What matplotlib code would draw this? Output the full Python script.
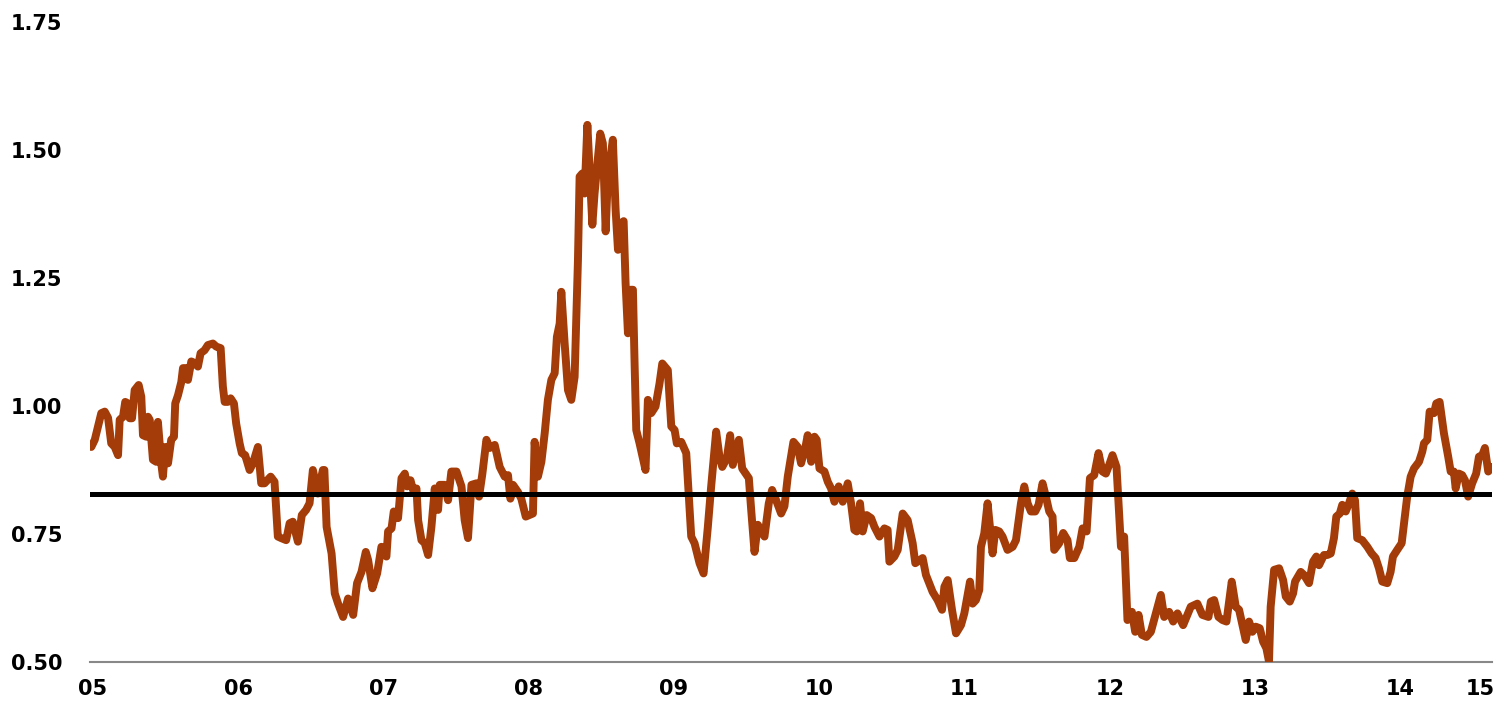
import matplotlib
matplotlib.use("Agg")
import matplotlib.pyplot as plt
import numpy as np

# Time position along the axis (units ~ years from start of 2005), and ratio values
t = [0.002, 0.027, 0.074, 0.099, 0.123, 0.146, 0.171, 0.195, 0.207, 0.231, 0.247, 0.267, 0.279, 0.296,
     0.315, 0.344, 0.363, 0.375, 0.399, 0.411, 0.424, 0.447, 0.471, 0.483, 0.507, 0.519, 0.536, 0.556,
     0.579, 0.599, 0.608, 0.628, 0.652, 0.664, 0.688, 0.700, 0.724, 0.748, 0.772, 0.791, 0.820, 0.844,
     0.880, 0.904, 0.936, 0.952, 0.965, 0.988, 1.008, 1.032, 1.048, 1.073, 1.089, 1.113, 1.145, 1.169,
     1.205, 1.229, 1.253, 1.297, 1.325, 1.349, 1.373, 1.409, 1.434, 1.457, 1.494, 1.522, 1.553, 1.578,
     1.602, 1.638, 1.674, 1.685, 1.701, 1.737, 1.760, 1.784, 1.820, 1.856, 1.893, 1.921, 1.953, 1.984,
     2.001, 2.032, 2.066, 2.097, 2.133, 2.145, 2.170, 2.186, 2.217, 2.242, 2.266, 2.282, 2.307, 2.325,
     2.350, 2.362, 2.386, 2.410, 2.434, 2.458, 2.482, 2.506, 2.518, 2.554, 2.578, 2.602, 2.639, 2.675,
     2.698, 2.722, 2.747, 2.783, 2.802, 2.826, 2.855, 2.879, 2.915, 2.951, 2.987, 3.011, 3.028, 3.047,
     3.083, 3.107, 3.139, 3.191, 3.203, 3.227, 3.252, 3.276, 3.299, 3.324, 3.348, 3.364, 3.384, 3.396,
     3.420, 3.444, 3.468, 3.492, 3.516, 3.528, 3.547, 3.564, 3.584, 3.605, 3.620, 3.636, 3.677, 3.696,
     3.716, 3.732, 3.768, 3.788, 3.805, 3.829, 3.846, 3.860, 3.877, 3.896, 3.913, 3.925, 3.937, 3.961,
     4.004, 4.021, 4.045, 4.076, 4.105, 4.125, 4.165, 4.190, 4.214, 4.230, 4.262, 4.298, 4.334, 4.358,
     4.394, 4.423, 4.454, 4.478, 4.514, 4.538, 4.558, 4.591, 4.615, 4.634, 4.678, 4.702, 4.750, 4.767,
     4.791, 4.815, 4.863, 4.894, 4.918, 4.947, 4.983, 5.007, 5.031, 5.072, 5.103, 5.127, 5.159, 5.175,
     5.200, 5.224, 5.240, 5.260, 5.296, 5.320, 5.344, 5.368, 5.399, 5.428, 5.464, 5.488, 5.512, 5.529,
     5.553, 5.572, 5.601, 5.633, 5.657, 5.693, 5.729, 5.752, 5.765, 5.801, 5.825, 5.861, 5.897, 5.933,
     5.952, 6.005, 6.029, 6.077, 6.113, 6.145, 6.162, 6.186, 6.217, 6.246, 6.282, 6.306, 6.347, 6.366,
     6.390, 6.414, 6.426, 6.450, 6.474, 6.510, 6.530, 6.558, 6.582, 6.618, 6.655, 6.679, 6.715, 6.739,
     6.763, 6.787, 6.818, 6.842, 6.871, 6.895, 6.919, 6.943, 6.955, 6.991, 7.020, 7.051, 7.068, 7.100,
     7.136, 7.160, 7.189, 7.213, 7.244, 7.275, 7.304, 7.328, 7.352, 7.376, 7.405, 7.437, 7.460, 7.484,
     7.516, 7.540, 7.564, 7.588, 7.621, 7.653, 7.689, 7.725, 7.749, 7.785, 7.814, 7.845, 7.886, 7.941,
     7.989, 8.025, 8.069, 8.086, 8.110, 8.141, 8.170, 8.199, 8.237, 8.266, 8.290, 8.338, 8.362, 8.386,
     8.410, 8.439, 8.463, 8.487, 8.506, 8.518, 8.543, 8.579, 8.608, 8.627, 8.656, 8.680, 8.694, 8.735,
     8.759, 8.795, 8.824, 8.848, 8.867, 8.903, 8.927, 8.952, 8.975, 8.992, 9.017, 9.035, 9.060, 9.084,
     9.107, 9.127, 9.143, 9.179, 9.216, 9.247, 9.276, 9.300, 9.324, 9.360, 9.384, 9.401, 9.432, 9.464,
     9.481, 9.504, 9.529, 9.553, 9.589, 9.613, 9.625, 9.649, 9.666, 9.697, 9.714, 9.738, 9.769, 9.800,
     9.818, 9.841, 9.854, 9.877, 9.901, 9.921, 9.944, 9.973, 10.002, 10.022, 10.046, 10.065, 10.089, 10.113]

values = [0.920, 0.934, 0.986, 0.989, 0.977, 0.927, 0.920, 0.904, 0.973, 0.979, 1.008, 1.005, 0.976, 0.976,
          1.031, 1.041, 1.018, 0.943, 0.940, 0.979, 0.973, 0.895, 0.891, 0.969, 0.888, 0.862, 0.920, 0.888,
          0.934, 0.940, 1.005, 1.021, 1.047, 1.074, 1.074, 1.051, 1.087, 1.084, 1.077, 1.103, 1.109, 1.119,
          1.122, 1.116, 1.113, 1.038, 1.008, 1.008, 1.015, 1.005, 0.966, 0.927, 0.908, 0.904, 0.875, 0.888,
          0.920, 0.849, 0.849, 0.862, 0.852, 0.745, 0.742, 0.738, 0.771, 0.774, 0.735, 0.787, 0.797, 0.810,
          0.875, 0.829, 0.875, 0.875, 0.764, 0.712, 0.634, 0.614, 0.588, 0.624, 0.592, 0.654, 0.676, 0.715,
          0.699, 0.644, 0.673, 0.725, 0.706, 0.755, 0.761, 0.794, 0.781, 0.859, 0.868, 0.843, 0.855, 0.836,
          0.839, 0.777, 0.738, 0.732, 0.709, 0.764, 0.839, 0.797, 0.846, 0.846, 0.816, 0.872, 0.872, 0.843,
          0.777, 0.742, 0.846, 0.849, 0.823, 0.868, 0.934, 0.918, 0.924, 0.881, 0.862, 0.865, 0.819, 0.846,
          0.832, 0.819, 0.784, 0.790, 0.930, 0.862, 0.891, 0.947, 1.012, 1.051, 1.064, 1.135, 1.161, 1.223,
          1.122, 1.031, 1.012, 1.057, 1.285, 1.448, 1.454, 1.415, 1.549, 1.435, 1.354, 1.415, 1.532, 1.513,
          1.341, 1.448, 1.520, 1.383, 1.305, 1.357, 1.361, 1.240, 1.142, 1.227, 1.227, 1.083, 0.953, 0.927,
          0.875, 1.012, 0.986, 0.999, 1.044, 1.083, 1.070, 0.960, 0.953, 0.927, 0.930, 0.908, 0.745, 0.732,
          0.693, 0.673, 0.764, 0.843, 0.950, 0.901, 0.881, 0.898, 0.943, 0.885, 0.934, 0.878, 0.859, 0.797,
          0.715, 0.768, 0.745, 0.810, 0.836, 0.816, 0.790, 0.804, 0.862, 0.930, 0.920, 0.888, 0.920, 0.943,
          0.891, 0.940, 0.934, 0.878, 0.872, 0.852, 0.839, 0.813, 0.843, 0.813, 0.849, 0.810, 0.758, 0.755,
          0.810, 0.755, 0.787, 0.781, 0.764, 0.745, 0.761, 0.758, 0.696, 0.706, 0.719, 0.790, 0.777, 0.732,
          0.693, 0.703, 0.670, 0.637, 0.621, 0.602, 0.647, 0.660, 0.602, 0.556, 0.572, 0.595, 0.657, 0.614,
          0.621, 0.641, 0.725, 0.751, 0.810, 0.712, 0.758, 0.755, 0.745, 0.719, 0.725, 0.738, 0.810, 0.843,
          0.810, 0.794, 0.794, 0.807, 0.849, 0.823, 0.794, 0.784, 0.719, 0.732, 0.752, 0.738, 0.703, 0.703,
          0.725, 0.761, 0.755, 0.859, 0.865, 0.908, 0.872, 0.868, 0.885, 0.904, 0.881, 0.725, 0.745, 0.582,
          0.598, 0.559, 0.592, 0.553, 0.549, 0.559, 0.595, 0.631, 0.588, 0.598, 0.579, 0.595, 0.572, 0.608,
          0.614, 0.592, 0.588, 0.618, 0.621, 0.588, 0.582, 0.579, 0.657, 0.608, 0.602, 0.543, 0.579, 0.559,
          0.569, 0.566, 0.540, 0.527, 0.501, 0.608, 0.680, 0.683, 0.660, 0.628, 0.618, 0.634, 0.657, 0.676,
          0.670, 0.654, 0.696, 0.706, 0.689, 0.709, 0.709, 0.712, 0.742, 0.784, 0.790, 0.807, 0.794, 0.810,
          0.829, 0.816, 0.742, 0.738, 0.725, 0.712, 0.703, 0.683, 0.657, 0.654, 0.676, 0.706, 0.719, 0.732,
          0.771, 0.823, 0.862, 0.878, 0.891, 0.911, 0.927, 0.934, 0.989, 0.986, 1.005, 1.008, 0.947, 0.901,
          0.872, 0.872, 0.839, 0.868, 0.865, 0.855, 0.823, 0.849, 0.868, 0.901, 0.904, 0.918, 0.872, 0.881]

average_level = 0.828
year_ticks = [0.014, 1.063, 2.112, 3.161, 4.210, 5.259, 6.308, 7.357, 8.406, 9.455, 10.03]
year_labels = ["05", "06", "07", "08", "09", "10", "11", "12", "13", "14", "15"]
y_ticks = [0.50, 0.75, 1.00, 1.25, 1.50, 1.75]
y_labels = ["0.50", "0.75", "1.00", "1.25", "1.50", "1.75"]

plt.rcParams['font.family'] = ['DejaVu Sans']

fig = plt.figure(figsize=(14.96, 7.11), dpi=100)
ax = fig.add_axes([0.0602, 0.0689, 0.9371, 0.9002])

ax.plot(t, values, color='#A33C08', lw=5.7, solid_joinstyle='round', solid_capstyle='round', zorder=3)
ax.axhline(average_level, color='black', lw=3.6, zorder=4)

ax.set_xlim(-0.007, 10.116)
ax.set_ylim(0.5, 1.75)

ax.set_xticks(year_ticks)
ax.set_xticklabels(year_labels)
ax.set_yticks(y_ticks)
ax.set_yticklabels(y_labels)

for s in ['top', 'right', 'left']:
    ax.spines[s].set_visible(False)
ax.spines['bottom'].set_color('#888888')
ax.spines['bottom'].set_linewidth(1.5)
ax.spines['bottom'].set_zorder(2)

ax.tick_params(axis='both', length=0, labelsize=15)
ax.tick_params(axis='y', pad=20)
ax.tick_params(axis='x', pad=12)
for lab in ax.get_xticklabels() + ax.get_yticklabels():
    lab.set_fontweight('bold')

fig.savefig('out.png', dpi=100)
